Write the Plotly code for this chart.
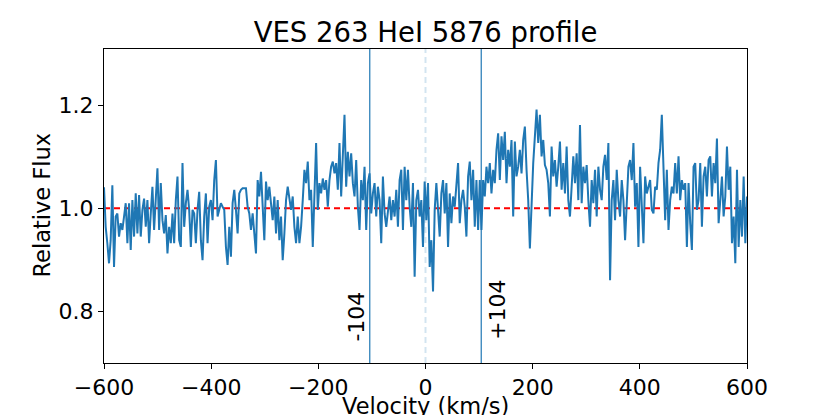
import numpy as np
import plotly.graph_objects as go

# Relative flux, left to right (-600 .. +600 km/s)
flux_blue_wing = [
    1.041, 0.964, 0.932, 0.893, 0.938, 1.045, 0.886, 0.984, 0.990, 0.945,
    0.971, 0.958, 0.984, 1.010, 0.932, 1.010, 0.919, 1.016, 0.945, 1.029,
    0.951, 1.026, 0.945, 0.997, 1.019, 0.964, 1.016, 0.932, 0.990, 1.042,
    0.958, 1.023, 1.078, 0.958, 1.049, 0.977, 0.951, 0.987, 0.912, 0.964,
    0.932, 0.990, 0.932, 1.016, 1.062, 0.938, 0.925, 1.088, 0.964, 1.010,
    1.036, 0.997, 0.925, 0.997, 0.990, 0.932, 0.997, 1.032, 0.938, 0.899,
    0.984, 1.029, 0.932, 1.003, 1.016, 0.977, 1.055, 1.094, 0.984, 0.997,
    1.010, 1.003, 0.997, 0.925, 0.890, 0.964, 0.906, 1.010, 1.036, 0.997,
    0.951, 1.029, 1.036, 1.039, 1.039, 1.039, 1.003, 0.990, 0.958, 0.990,
    0.951, 0.912, 1.055, 1.023, 1.071, 1.003, 0.938, 1.052, 1.016, 1.042,
    1.010,
]
flux_blue_core = [
    0.977, 1.023, 0.951, 1.016, 0.938, 0.984, 0.899, 0.951, 1.016, 1.042,
    1.023, 0.997, 1.023, 0.964, 0.932, 0.984, 0.932, 0.964, 1.016, 1.075,
    1.049, 1.091, 1.016, 1.036, 0.925, 1.023, 1.127, 0.997, 1.049, 1.029,
    1.058, 1.036, 1.055, 1.003, 1.055, 1.081, 1.091, 1.068, 1.088, 1.036,
    1.127, 1.023, 1.107, 1.182, 1.042, 1.110, 1.062, 1.107, 1.049, 1.023,
    1.094, 1.003, 0.958, 1.055, 1.016, 1.081, 0.958, 1.049, 1.068, 0.990,
    1.029, 1.049, 0.984, 1.042, 1.016, 0.932, 1.062, 0.990, 0.964, 0.997,
    1.023, 0.977, 1.016, 0.984, 1.036, 0.964, 1.055, 1.075, 0.958, 1.081,
    1.016, 1.075, 1.003, 0.964, 1.049, 0.867, 1.016, 1.036, 0.984, 1.016,
    0.925, 1.052, 0.977,
]
flux_red_core = [
    1.049, 0.886, 0.938, 0.838, 0.997, 1.049, 0.997, 0.945, 1.029, 1.055,
    0.990, 1.049, 0.925, 1.029, 0.971, 1.023, 1.003, 1.042, 1.088, 0.971,
    1.016, 1.036, 1.003, 0.945, 1.062, 1.091, 1.016, 1.075, 0.964, 1.055,
    0.958, 1.055, 0.958, 1.055, 1.023, 1.081, 1.049, 1.088, 1.029, 1.075,
    1.049, 1.114, 1.146, 1.055, 1.140, 1.094, 1.149, 1.049, 1.114, 1.081,
    1.133, 0.984, 1.130, 1.062, 1.081, 1.114, 1.068, 1.133, 1.159, 1.075,
    1.016, 0.922, 1.029, 1.088, 1.140, 1.192, 1.127, 1.182, 1.101, 1.133,
    1.084, 1.075, 1.049, 0.984, 1.120, 1.062, 1.094, 1.042, 1.081, 1.130,
    1.036, 1.088, 1.029, 1.120, 1.016, 0.984, 1.042, 1.101, 1.049, 1.107,
    1.016, 1.162, 1.010, 1.081, 1.049,
]
flux_red_wing = [
    1.084, 1.016, 0.964, 1.055, 1.010, 1.075, 0.984, 1.081, 1.036, 1.016,
    1.081, 1.104, 1.055, 1.127, 0.860, 1.016, 1.055, 0.977, 1.075, 1.016,
    0.984, 1.055, 1.016, 0.938, 1.029, 1.081, 1.094, 1.055, 1.127, 1.003,
    1.049, 0.925, 1.081, 1.016, 0.932, 1.062, 1.029, 1.042, 1.055, 0.997,
    0.990, 1.042, 1.036, 1.088, 1.114, 1.182, 1.081, 0.977, 1.075, 0.958,
    1.016, 1.042, 1.029, 1.088, 1.029, 1.101, 1.016, 1.055, 1.036, 1.049,
    0.925, 1.049, 0.971, 0.919, 1.081, 1.088, 0.997, 1.016, 1.088, 0.964,
    1.062, 1.081, 1.023, 1.094, 1.101, 1.023, 1.088, 1.049, 1.136, 0.971,
    1.016, 1.062, 0.984, 1.023, 1.120, 1.036, 1.081, 0.932, 0.984, 0.893,
    1.075, 0.925, 1.016, 0.945, 1.062, 0.932, 1.023,
]

flux = flux_blue_wing + flux_blue_core + flux_red_core + flux_red_wing
velocity = np.linspace(-600, 600, len(flux))

line_velocities = [-104, 104]
line_labels = ["-104", "+104"]
label_x = [-129, 133]
label_y = [0.790, 0.802]

BLUE = "#1f77b4"
FONT = "DejaVu Sans, Liberation Sans, sans-serif"

fig = go.Figure()

# continuum level
fig.add_trace(go.Scatter(
    x=[-600, 600], y=[1.0, 1.0], mode="lines",
    line=dict(color="red", width=2, dash="6px,4px"),
    hoverinfo="skip", showlegend=False,
))

fig.add_trace(go.Scatter(
    x=velocity, y=flux, mode="lines",
    line=dict(color=BLUE, width=2),
    showlegend=False,
    hovertemplate="v=%{x:.0f} km/s<br>flux=%{y:.3f}<extra></extra>",
))

# rest velocity marker and +-104 km/s markers
fig.add_shape(type="line", x0=0, x1=0, y0=0, y1=1, yref="paper",
              line=dict(color="rgba(31,119,180,0.2)", width=2, dash="6px,4px"))
for v in line_velocities:
    fig.add_shape(type="line", x0=v, x1=v, y0=0, y1=1, yref="paper",
                  line=dict(color=BLUE, width=1.2))

for txt, x, y in zip(line_labels, label_x, label_y):
    fig.add_annotation(x=x, y=y, text=txt, showarrow=False, textangle=-90,
                       font=dict(family=FONT, size=22, color="black"))

# axis titles placed by hand (matplotlib-like positions)
fig.add_annotation(text="Velocity (km/s)", xref="paper", yref="paper",
                   x=0.5, y=-0.138, xanchor="center", yanchor="middle",
                   showarrow=False, font=dict(family=FONT, size=22.5, color="black"))
fig.add_annotation(text="Relative Flux", xref="paper", yref="paper",
                   x=-0.0956, y=0.503, xanchor="center", yanchor="middle",
                   textangle=-90, showarrow=False,
                   font=dict(family=FONT, size=22.5, color="black"))

axis_common = dict(
    showline=True, linecolor="black", linewidth=1, mirror=True,
    ticks="outside", ticklen=5, tickcolor="black", tickwidth=1,
    showgrid=False, zeroline=False,
    tickfont=dict(family=FONT, size=22, color="black"),
)

fig.update_xaxes(range=[-600, 600], tickvals=[-600, -400, -200, 0, 200, 400, 600],
                 **axis_common)
fig.update_yaxes(range=[0.699, 1.31], tickvals=[0.8, 1.0, 1.2], tickformat=".1f",
                 **axis_common)

# the page body adds 8px around the figure, so the figure is 8px smaller
fig.update_layout(
    width=822, height=407,
    margin=dict(l=95.5, r=83, t=41, b=52.3, autoexpand=False),
    paper_bgcolor="white", plot_bgcolor="white",
    title=dict(text="VES 263 HeI 5876 profile", x=0.5, xanchor="center",
               xref="paper", y=0.941, yanchor="middle",
               font=dict(family=FONT, size=27.5, color="black")),
)

fig.write_html("out.html")
